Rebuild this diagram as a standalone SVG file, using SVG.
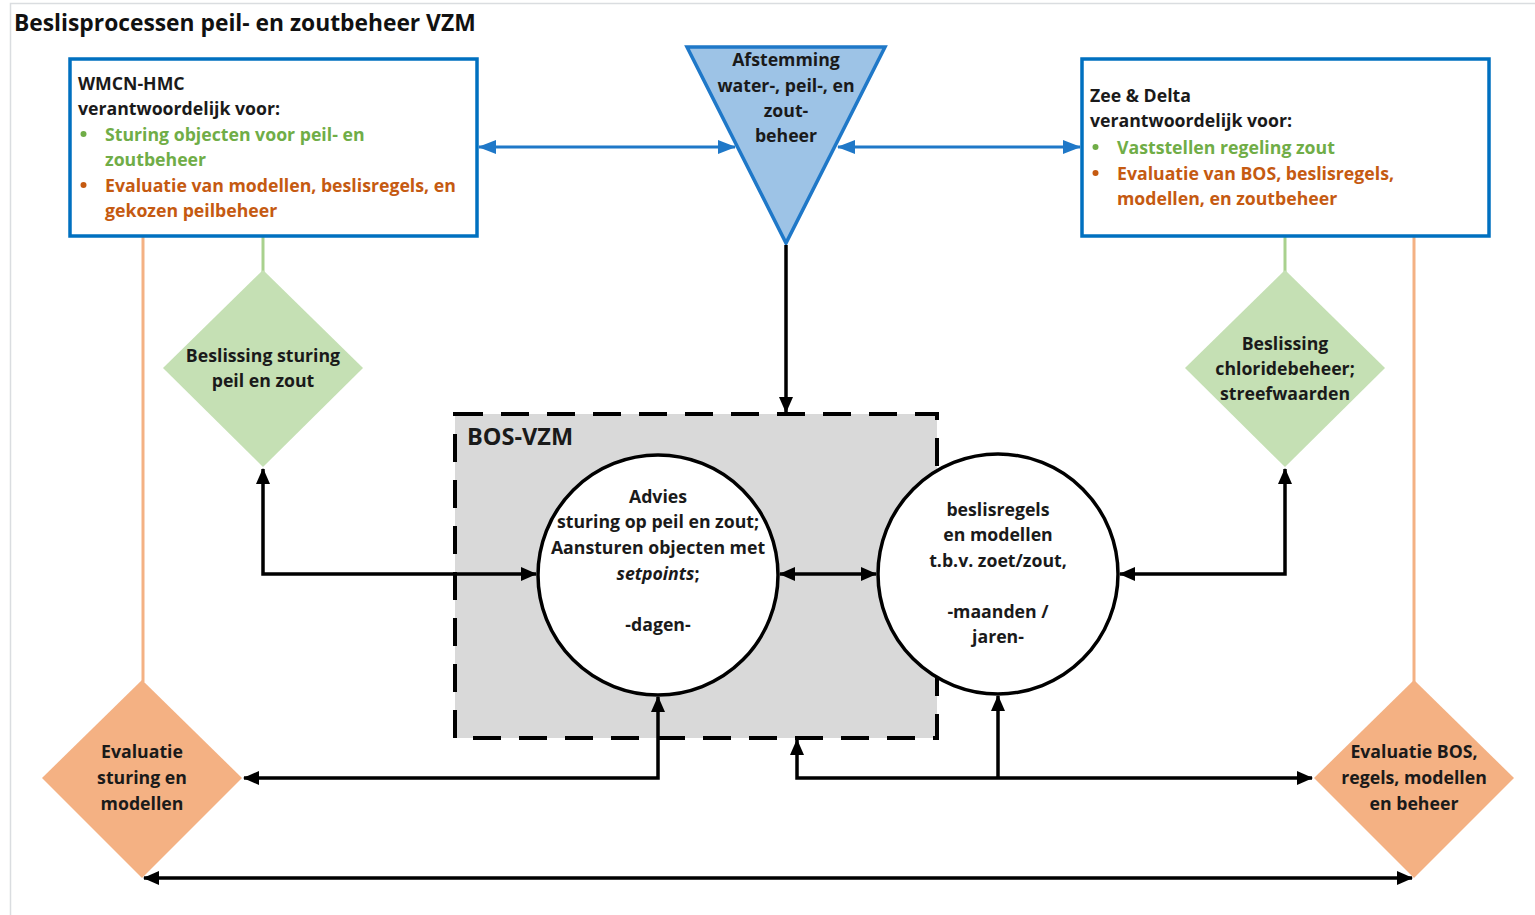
<svg xmlns="http://www.w3.org/2000/svg" width="1535" height="915" viewBox="0 0 1535 915">
  <defs>
    <marker id="arrowBlack" viewBox="0 0 16 14" refX="15" refY="7" markerWidth="16" markerHeight="14" markerUnits="userSpaceOnUse" orient="auto-start-reverse">
      <path d="M0,0 L16,7 L0,14 Z" fill="#000"/>
    </marker>
    <marker id="arrowBlue" viewBox="0 0 18 14" refX="17" refY="7" markerWidth="18" markerHeight="14" markerUnits="userSpaceOnUse" orient="auto-start-reverse">
      <path d="M0,0 L18,7 L0,14 Z" fill="#1F78C8"/>
    </marker>
    <style>
      text { font-family: "Open Sans", Lato, "Liberation Sans", sans-serif; font-weight: bold; font-size: 17.7px; fill: #1a1a1a; }
      .title { font-size: 22.8px; fill: #111; }
      .mid { text-anchor: middle; }
      .green { fill: #70AD47; }
      .orange { fill: #C55A11; }
      .resp { fill: #fff; stroke: #0070C0; stroke-width: 3.5; }
      .dgreen { fill: #C5E0B4; }
      .dorange { fill: #F4B183; }
      .circle { fill: #fff; stroke: #000; stroke-width: 3.5; }
      .conn { fill: none; stroke: #000; stroke-width: 3.5; }
      .blue { fill: none; stroke: #1F78C8; stroke-width: 3; }
      .lgreen { stroke: #A9D18E; stroke-width: 3; fill: none; }
      .lorange { stroke: #F4B183; stroke-width: 3; fill: none; }
    </style>
  </defs>

  <!-- page frame -->
  <rect x="10.5" y="3.5" width="1540" height="930" fill="#fff" stroke="#DADDE0" stroke-width="1.5"/>

  <text class="title" x="14" y="31">Beslisprocessen peil- en zoutbeheer VZM</text>

  <!-- thin lines from the responsibility boxes to the decision diamonds -->
  <g id="links">
    <line class="lorange" x1="143" y1="236" x2="143" y2="682"/>
    <line class="lgreen" x1="263" y1="236" x2="263" y2="272"/>
    <line class="lgreen" x1="1285" y1="236" x2="1285" y2="272"/>
    <line class="lorange" x1="1414" y1="236" x2="1414" y2="682"/>
  </g>

  <g id="bos-vzm">
    <rect x="455" y="414" width="482" height="324" fill="#D9D9D9" stroke="#000" stroke-width="4" stroke-dasharray="28 18"/>
    <text x="467" y="445" style="font-size:23.5px">BOS-VZM</text>
  </g>

  <g id="wmcn-hmc">
    <rect class="resp" x="70" y="59" width="407" height="177"/>
    <text x="78" y="90">WMCN-HMC</text>
    <text x="78" y="115">verantwoordelijk voor:</text>
    <circle cx="83.5" cy="134" r="3" fill="#70AD47"/>
    <text class="green" x="105" y="141">Sturing objecten voor peil- en</text>
    <text class="green" x="105" y="166">zoutbeheer</text>
    <circle cx="83.5" cy="185" r="3" fill="#C55A11"/>
    <text class="orange" x="105" y="192">Evaluatie van modellen, beslisregels, en</text>
    <text class="orange" x="105" y="217">gekozen peilbeheer</text>
  </g>

  <g id="zee-delta">
    <rect class="resp" x="1082" y="59" width="407" height="177"/>
    <text x="1090" y="102">Zee &amp; Delta</text>
    <text x="1090" y="127">verantwoordelijk voor:</text>
    <circle cx="1095.5" cy="147" r="3" fill="#70AD47"/>
    <text class="green" x="1117" y="154">Vaststellen regeling zout</text>
    <circle cx="1095.5" cy="173" r="3" fill="#C55A11"/>
    <text class="orange" x="1117" y="180">Evaluatie van BOS, beslisregels,</text>
    <text class="orange" x="1117" y="205">modellen, en zoutbeheer</text>
  </g>

  <g id="afstemming">
    <polygon points="687,47 885,47 786,243" fill="#9DC3E6" stroke="#1F78C8" stroke-width="3.5" stroke-linejoin="miter"/>
    <text class="mid" x="786" y="66">Afstemming</text>
    <text class="mid" x="786" y="92">water-, peil-, en</text>
    <text class="mid" x="786" y="117">zout-</text>
    <text class="mid" x="786" y="142">beheer</text>
  </g>

  <g id="beslissing-sturing">
    <polygon class="dgreen" points="263,270 363,368 263,467 163,368"/>
    <text class="mid" x="263" y="362">Beslissing sturing</text>
    <text class="mid" x="263" y="387">peil en zout</text>
  </g>

  <g id="beslissing-chloride">
    <polygon class="dgreen" points="1285,270 1385,368 1285,467 1185,368"/>
    <text class="mid" x="1285" y="350">Beslissing</text>
    <text class="mid" x="1285" y="375">chloridebeheer;</text>
    <text class="mid" x="1285" y="400">streefwaarden</text>
  </g>

  <g id="evaluatie-sturing">
    <polygon class="dorange" points="142,680 242,778 142,878 42,778"/>
    <text class="mid" x="142" y="758">Evaluatie</text>
    <text class="mid" x="142" y="784">sturing en</text>
    <text class="mid" x="142" y="810">modellen</text>
  </g>

  <g id="evaluatie-bos">
    <polygon class="dorange" points="1414,680 1514,778 1414,878 1314,778"/>
    <text class="mid" x="1414" y="758">Evaluatie BOS,</text>
    <text class="mid" x="1414" y="784">regels, modellen</text>
    <text class="mid" x="1414" y="810">en beheer</text>
  </g>

  <g id="advies">
    <circle class="circle" cx="658" cy="575" r="120"/>
    <text class="mid" x="658" y="503">Advies</text>
    <text class="mid" x="658" y="528">sturing op peil en zout;</text>
    <text class="mid" x="658" y="554">Aansturen objecten met</text>
    <text class="mid" x="658" y="580"><tspan font-style="italic">setpoints</tspan>;</text>
    <text class="mid" x="658" y="631">-dagen-</text>
  </g>

  <g id="beslisregels">
    <circle class="circle" cx="998" cy="574" r="120"/>
    <text class="mid" x="998" y="516">beslisregels</text>
    <text class="mid" x="998" y="541">en modellen</text>
    <text class="mid" x="998" y="567">t.b.v. zoet/zout,</text>
    <text class="mid" x="998" y="618">-maanden /</text>
    <text class="mid" x="998" y="643">jaren-</text>
  </g>

  <g id="connectors">
    <!-- coordination arrows (blue) -->
    <line class="blue" x1="479" y1="147" x2="735" y2="147" marker-start="url(#arrowBlue)" marker-end="url(#arrowBlue)"/>
    <line class="blue" x1="838" y1="147" x2="1080" y2="147" marker-start="url(#arrowBlue)" marker-end="url(#arrowBlue)"/>
    <!-- coordination to BOS -->
    <line class="conn" x1="786" y1="245" x2="786" y2="412" marker-end="url(#arrowBlack)"/>
    <!-- decisions to advies / beslisregels -->
    <path class="conn" d="M263,469 V574 H536" marker-start="url(#arrowBlack)" marker-end="url(#arrowBlack)"/>
    <path class="conn" d="M1285,469 V574 H1120" marker-start="url(#arrowBlack)" marker-end="url(#arrowBlack)"/>
    <!-- between the two circles -->
    <line class="conn" x1="780" y1="574" x2="876" y2="574" marker-start="url(#arrowBlack)" marker-end="url(#arrowBlack)"/>
    <!-- evaluation loops -->
    <path class="conn" d="M658,697 V778 H244" marker-start="url(#arrowBlack)" marker-end="url(#arrowBlack)"/>
    <path class="conn" d="M797,740 V778 H1312" marker-start="url(#arrowBlack)" marker-end="url(#arrowBlack)"/>
    <line class="conn" x1="998" y1="778" x2="998" y2="696" marker-end="url(#arrowBlack)"/>
    <!-- between the evaluations -->
    <line class="conn" x1="144" y1="878" x2="1412" y2="878" marker-start="url(#arrowBlack)" marker-end="url(#arrowBlack)"/>
  </g>
</svg>
